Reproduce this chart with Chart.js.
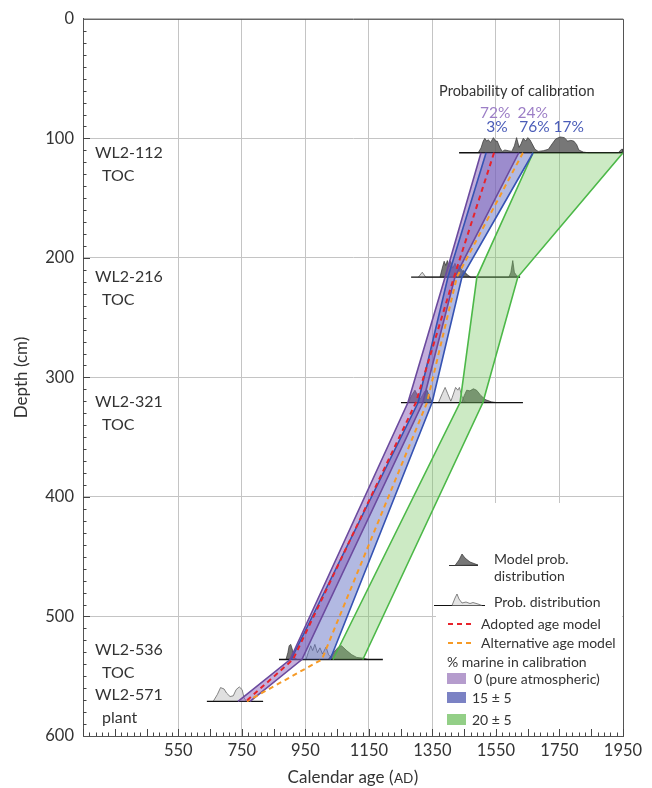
<!DOCTYPE html>
<html>
<head>
<meta charset="utf-8">
<script src="https://cdn.jsdelivr.net/npm/chart.js@4.4.1/dist/chart.umd.min.js"></script>
<style>
  html, body { margin: 0; padding: 0; background: #fff; }
  #wrap { width: 652px; height: 788px; }
</style>
</head>
<body>
<div id="wrap"><canvas id="myChart" width="652" height="788"></canvas></div>
<script>
const FONT = "Lato, 'Open Sans', sans-serif";
const INK = '#333333';
const PEAK_SCALE = 1.15;

// samples
const sampleDepths = [112, 216, 321, 536, 571];
const sampleNames = ['WL2-112', 'WL2-216', 'WL2-321', 'WL2-536', 'WL2-571'];
const sampleMaterial = ['TOC', 'TOC', 'TOC', 'TOC', 'plant'];
const sampleLabelDepths = [111, 215, 320, 527.5, 564.5];

// axis ticks
const xTicks = [550, 750, 950, 1150, 1350, 1550, 1750, 1950];
const yTicks = [0, 100, 200, 300, 400, 500, 600];

// age ranges (AD) at each sample depth
const atmLeft = [1503, 1390, 1273, 902, 738];
const atmRight = [1622, 1421, 1320, 939, 776];
const mar15Left = [1519, 1399, 1305, 905];
const mar15Right = [1667, 1443, 1349, 1028];
const mar20Left = [1667, 1490, 1437, 1037];
const mar20Right = [1950, 1619, 1509, 1131];

// age models
const adoptedModel = [1544, 1418, 1298, 911, 763];
const alternativeModel = [1635, 1427, 1333, 1002, 766];

// horizontal lines under the distributions
const baseStart = [1434, 1283, 1251, 867, 640];
const baseEnd = [1950, 1626, 1635, 1194, 817];

// probability curves: [age, height above the sample line (cm)]
const modelProb112 = [[1494,0],[1503,3.5],[1510,8.5],[1515,10.5],[1521,8.5],[1526,9.5],[1533,7.5],[1542,11],[1549,8.5],[1554,8.5],[1563,3.5],[1570,1],[1578,2],[1589,1.5],[1600,1],[1608,5],[1615,11],[1623,4],[1629,6.5],[1636,10.5],[1644,8.5],[1650,11],[1657,9.5],[1664,6.5],[1673,2.5],[1683,1],[1699,1.5],[1715,2.5],[1727,6.5],[1738,10],[1752,11.5],[1765,11],[1776,8.5],[1786,9],[1795,8.5],[1804,6],[1811,2],[1825,0.5],[1841,0],[1935,0],[1945,2.5],[1950,2.5],[1950,0]];
const modelProb216 = [[1374,0],[1381,6.5],[1387,11.5],[1392,8.5],[1397,12],[1402,7.5],[1407,11.5],[1414,6.5],[1421,10],[1428,6],[1435,8.5],[1442,5],[1450,3.5],[1461,1],[1471,0],[1591,0],[1597,3.5],[1603,12],[1608,3.5],[1615,1],[1626,0]];
const prob216 = [[1306,0],[1318,3.5],[1329,0],[1440,0],[1448,5],[1455,3],[1462,1.5],[1470,0]];
const modelProb321 = [[1274,0],[1284,5],[1295,9],[1304,5],[1311,2.5],[1318,5],[1325,8],[1332,9.5],[1340,5],[1350,0],[1442,0],[1450,5],[1458,9],[1468,8.5],[1479,10],[1489,9],[1503,5],[1518,2],[1536,0.5],[1552,0]];
const prob321 = [[1369,0],[1381,6.5],[1390,11],[1398,6.5],[1408,1],[1412,3.5],[1423,11],[1430,9],[1435,11],[1442,5],[1450,1],[1458,0]];
const modelProb536 = [[889,0],[895,5],[899,10],[904,11],[910,6.5],[917,1],[925,0],[1022,0],[1038,5],[1054,9],[1064,10],[1080,6.5],[1096,3.5],[1112,1.5],[1132,1],[1148,0]];
const prob536 = [[952,0],[959,5],[967,10],[973,6.5],[980,11],[988,5],[996,8.5],[1004,4],[1015,9],[1023,3.5],[1033,1],[1043,0]];
const prob571 = [[660,0],[673,5],[683,10],[694,9],[702,6],[713,3.5],[723,4],[732,8.5],[742,10.5],[751,8.5],[757,2.5],[765,0]];

function atDepths(vals) {
	return vals.map((v, i) => ({x: v, y: sampleDepths[i]}));
}
function curve(pts, depth) {
	return pts.map(p => ({x: p[0], y: depth - p[1] * PEAK_SCALE}));
}
function bandShape(left, right) {
	const pts = atDepths(left);
	const r = atDepths(right);
	for (let i = r.length - 1; i >= 0; i--) pts.push(r[i]);
	return pts;
}

const datasets = [];
function addLine(data, color, width, dash, order) {
	datasets.push({
		data: data,
		borderColor: color,
		borderWidth: width,
		borderDash: dash || [],
		backgroundColor: 'transparent',
		fill: false,
		pointRadius: 0,
		tension: 0,
		order: order,
	});
}
function addShape(data, fillColor, lineColor, width, order) {
	datasets.push({
		data: data,
		backgroundColor: fillColor,
		borderColor: lineColor,
		borderWidth: width,
		fill: 'shape',
		pointRadius: 0,
		tension: 0,
		order: order,
	});
}

// age models on top
addLine(atDepths(adoptedModel), '#e8232b', 2, [5, 4], 0);
addLine(atDepths(alternativeModel), '#f69a26', 2, [5, 4], 0);

// band edges
addLine(atDepths(atmLeft), '#6b4a9e', 1.6, null, 1);
addLine(atDepths(atmRight), '#6b4a9e', 1.6, null, 1);
addLine(atDepths(mar15Left), '#3553b3', 1.6, null, 1);
addLine(atDepths(mar15Right), '#3553b3', 1.6, null, 1);
addLine(atDepths(mar20Left), '#4cb848', 1.6, null, 1);
addLine(atDepths(mar20Right), '#4cb848', 1.6, null, 1);

// band fills
addShape(bandShape(atmLeft, atmRight), 'rgba(135,95,185,0.5)', 'rgba(0,0,0,0)', 0, 2);
addShape(bandShape(mar15Left, mar15Right), 'rgba(80,95,190,0.44)', 'rgba(0,0,0,0)', 0, 2);
addShape(bandShape(mar20Left, mar20Right), 'rgba(120,200,100,0.38)', 'rgba(0,0,0,0)', 0, 2);

// sample lines
sampleDepths.forEach((d, i) => {
	addLine([{x: baseStart[i], y: d}, {x: baseEnd[i], y: d}], '#111111', 1.3, null, 3);
});

// distributions
const DARK = 'rgba(95,95,95,0.85)';
const LIGHT = 'rgba(218,218,218,0.85)';
addShape(curve(modelProb112, sampleDepths[0]), DARK, '#333333', 0.7, 4);
addShape(curve(modelProb216, sampleDepths[1]), DARK, '#333333', 0.7, 4);
addShape(curve(modelProb321, sampleDepths[2]), DARK, '#333333', 0.7, 4);
addShape(curve(modelProb536, sampleDepths[3]), DARK, '#333333', 0.7, 4);
addShape(curve(prob216, sampleDepths[1]), LIGHT, '#555555', 0.7, 5);
addShape(curve(prob321, sampleDepths[2]), LIGHT, '#555555', 0.7, 5);
addShape(curve(prob536, sampleDepths[3]), LIGHT, '#555555', 0.7, 5);
addShape(curve(prob571, sampleDepths[4]), LIGHT, '#555555', 0.7, 5);

const decor = {
	id: 'decor',
	beforeDatasetsDraw(chart) {
		const {ctx, chartArea: a} = chart;
		ctx.save();
		ctx.fillStyle = '#ffffff';
		ctx.fillRect(a.right - 187, a.bottom - 233, 186, 232);
		ctx.restore();
	},
	afterDraw(chart) {
		const {ctx, chartArea: a} = chart;
		const xs = chart.scales.x;
		const ys = chart.scales.y;
		ctx.save();

		// frame
		ctx.strokeStyle = '#555555';
		ctx.lineWidth = 1;
		ctx.beginPath();
		ctx.moveTo(a.left, a.top + 0.5);
		ctx.lineTo(a.right + 0.5, a.top + 0.5);
		ctx.lineTo(a.right + 0.5, a.bottom);
		ctx.stroke();

		// inner tick marks
		ctx.strokeStyle = '#444444';
		ctx.beginPath();
		for (let v = 250; v <= 1950; v += 20) {
			const px = Math.round(xs.getPixelForValue(v)) + 0.5;
			const len = (v % 100 === 50) ? 7 : 3.5;
			ctx.moveTo(px, a.bottom);
			ctx.lineTo(px, a.bottom - len);
		}
		for (let d = 10; d < 600; d += 10) {
			const py = Math.round(ys.getPixelForValue(d)) + 0.5;
			const len = (d % 100 === 0) ? 7 : 3.5;
			ctx.moveTo(a.left, py);
			ctx.lineTo(a.left + len, py);
		}
		ctx.stroke();

		// sample labels
		ctx.fillStyle = INK;
		ctx.font = '16px ' + FONT;
		ctx.textAlign = 'left';
		ctx.textBaseline = 'alphabetic';
		sampleNames.forEach((n, i) => {
			const py = ys.getPixelForValue(sampleLabelDepths[i]) + 6;
			ctx.fillText(n, a.left + 12, py);
			ctx.fillText(sampleMaterial[i], a.left + 19, py + 23);
		});

		// calibration probabilities
		ctx.font = '14.5px ' + FONT;
		ctx.fillText('Probability of calibration', xs.getPixelForValue(1371), ys.getPixelForValue(64.5));
		ctx.font = '15.5px ' + FONT;
		ctx.textAlign = 'center';
		ctx.fillStyle = '#9c7ec6';
		ctx.fillText('72%', xs.getPixelForValue(1548), ys.getPixelForValue(83.3));
		ctx.fillText('24%', xs.getPixelForValue(1666), ys.getPixelForValue(83.3));
		ctx.fillStyle = '#4a5cb8';
		ctx.fillText('3%', xs.getPixelForValue(1553), ys.getPixelForValue(94.5));
		ctx.fillText('76%', xs.getPixelForValue(1671), ys.getPixelForValue(94.5));
		ctx.fillText('17%', xs.getPixelForValue(1779), ys.getPixelForValue(94.5));

		// legend
		ctx.textAlign = 'left';
		ctx.fillStyle = INK;
		ctx.font = '14px ' + FONT;
		const lx = a.right - 175;

		// model prob icon
		ctx.strokeStyle = '#333333';
		ctx.lineWidth = 1;
		ctx.beginPath();
		ctx.moveTo(lx + 1, 565.5); ctx.lineTo(lx + 30, 565.5);
		ctx.stroke();
		ctx.beginPath();
		ctx.moveTo(lx + 7, 565.5);
		ctx.lineTo(lx + 11, 560);
		ctx.lineTo(lx + 14, 554);
		ctx.lineTo(lx + 17, 558);
		ctx.lineTo(lx + 22, 562);
		ctx.lineTo(lx + 30, 565);
		ctx.closePath();
		ctx.fillStyle = '#777777';
		ctx.fill();
		ctx.lineWidth = 0.7;
		ctx.stroke();
		ctx.fillStyle = INK;
		ctx.fillText('Model prob.', lx + 46, 564);
		ctx.fillText('distribution', lx + 46, 581);

		// prob distribution icon
		ctx.strokeStyle = '#111111';
		ctx.lineWidth = 1;
		ctx.beginPath();
		ctx.moveTo(lx - 14, 605.5); ctx.lineTo(lx + 37, 605.5);
		ctx.stroke();
		ctx.beginPath();
		ctx.moveTo(lx + 4, 605.5);
		ctx.lineTo(lx + 7, 598);
		ctx.lineTo(lx + 9, 594);
		ctx.lineTo(lx + 11, 599);
		ctx.lineTo(lx + 14, 603);
		ctx.lineTo(lx + 18, 602);
		ctx.lineTo(lx + 22, 603.5);
		ctx.lineTo(lx + 25, 602.5);
		ctx.lineTo(lx + 30, 604);
		ctx.lineTo(lx + 34, 605.5);
		ctx.closePath();
		ctx.fillStyle = '#e4e4e4';
		ctx.fill();
		ctx.strokeStyle = '#555555';
		ctx.lineWidth = 0.7;
		ctx.stroke();
		ctx.fillStyle = INK;
		ctx.fillText('Prob. distribution', lx + 46, 607);

		// age model lines
		ctx.lineWidth = 2;
		ctx.setLineDash([5, 4]);
		ctx.strokeStyle = '#e8232b';
		ctx.beginPath(); ctx.moveTo(lx, 624); ctx.lineTo(lx + 26, 624); ctx.stroke();
		ctx.strokeStyle = '#f69a26';
		ctx.beginPath(); ctx.moveTo(lx, 643); ctx.lineTo(lx + 26, 643); ctx.stroke();
		ctx.setLineDash([]);
		ctx.fillText('Adopted age model', lx + 33, 629);
		ctx.fillText('Alternative age model', lx + 33, 648);
		ctx.fillText('% marine in calibration', lx - 1, 667);

		// marine swatches
		const sw = [['#b59ccd', '0 (pure atmospheric)', 673, 26], ['#7b82c4', '15 \u00b1 5', 692, 24], ['#93cf87', '20 \u00b1 5', 714, 24]];
		sw.forEach(s => {
			ctx.fillStyle = s[0];
			ctx.fillRect(lx - 1, s[2], 19, 11);
			ctx.fillStyle = INK;
			ctx.fillText(s[1], lx + s[3], s[2] + 11);
		});

		// axis titles
		ctx.font = '17px ' + FONT;
		ctx.save();
		ctx.translate(22, (a.top + a.bottom) / 2);
		ctx.rotate(-Math.PI / 2);
		ctx.textAlign = 'center';
		ctx.textBaseline = 'middle';
		ctx.fillText('Depth (cm)', 0, 0);
		ctx.restore();

		const t1 = 'Calendar age (';
		const t2 = 'AD';
		const t3 = ')';
		ctx.font = '17px ' + FONT;
		const w1 = ctx.measureText(t1).width;
		const w3 = ctx.measureText(t3).width;
		ctx.font = '13.5px ' + FONT;
		const w2 = ctx.measureText(t2).width + 1;
		let tx = (a.left + a.right) / 2 - (w1 + w2 + w3) / 2;
		const ty = 783;
		ctx.textAlign = 'left';
		ctx.font = '17px ' + FONT;
		ctx.fillText(t1, tx, ty);
		ctx.font = '13.5px ' + FONT;
		ctx.fillText(t2, tx + w1 + 0.5, ty);
		ctx.font = '17px ' + FONT;
		ctx.fillText(t3, tx + w1 + w2, ty);

		ctx.restore();
	}
};

new Chart(document.getElementById('myChart'), {
	type: 'line',
	data: { datasets: datasets },
	options: {
		responsive: false,
		animation: false,
		events: [],
		layout: {
			padding: { left: 0, top: 16, right: 29, bottom: 0 }
		},
		plugins: {
			legend: { display: false },
			tooltip: { enabled: false },
		},
		scales: {
			x: {
				type: 'linear',
				min: 250,
				max: 1950,
				afterBuildTicks: (s) => { s.ticks = xTicks.map(v => ({value: v})); },
				afterFit: (s) => { s.height = 52; },
				grid: { color: '#c4c4c4', drawTicks: false },
				border: { color: '#555555' },
				ticks: {
					padding: 5,
					color: INK,
					font: { family: FONT, size: 16.5 },
					callback: (v) => String(v),
				},
			},
			y: {
				type: 'linear',
				reverse: true,
				min: 0,
				max: 600,
				afterBuildTicks: (s) => { s.ticks = yTicks.map(v => ({value: v})); },
				afterFit: (s) => { s.width = 83; },
				grid: { color: '#c4c4c4', drawTicks: false },
				border: { color: '#555555' },
				ticks: {
					padding: 9,
					color: INK,
					font: { family: FONT, size: 16.5 },
					callback: (v) => String(v),
				},
			}
		}
	},
	plugins: [decor]
});
</script>
</body>
</html>
